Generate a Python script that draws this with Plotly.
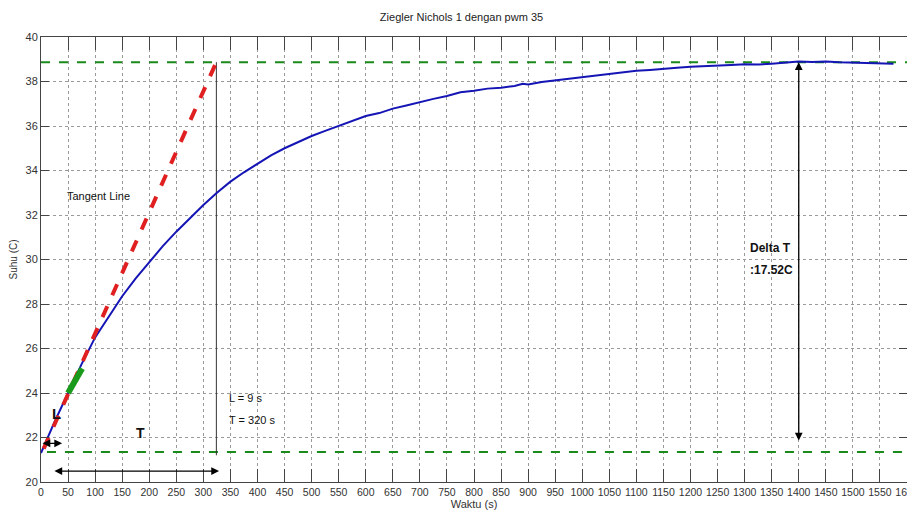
import plotly.graph_objects as go

# ---------------- data ----------------
time_s = [0, 25, 50, 75, 100, 125, 150, 175, 200, 225, 250, 275, 300, 325, 350, 375,
          400, 425, 450, 475, 500, 525, 550, 575, 600, 625, 650, 675, 700, 725, 750,
          775, 800, 825, 850, 875, 890, 900, 925, 950, 975, 1000, 1025, 1050, 1075,
          1100, 1125, 1150, 1175, 1200, 1225, 1250, 1275, 1300, 1325, 1350, 1375,
          1400, 1425, 1450, 1475, 1500, 1525, 1550, 1575]
temp_c = [21.30, 22.70, 24.00, 25.30, 26.50, 27.45, 28.35, 29.15, 29.90, 30.60, 31.25,
          31.85, 32.45, 33.00, 33.50, 33.92, 34.30, 34.68, 35.00, 35.28, 35.55, 35.78,
          36.00, 36.22, 36.45, 36.58, 36.78, 36.92, 37.08, 37.22, 37.35, 37.52, 37.58,
          37.68, 37.72, 37.80, 37.90, 37.87, 37.98, 38.05, 38.12, 38.22, 38.28, 38.36,
          38.40, 38.48, 38.52, 38.58, 38.62, 38.66, 38.68, 38.72, 38.74, 38.78, 38.76,
          38.80, 38.84, 38.90, 38.88, 38.90, 38.86, 38.84, 38.82, 38.80, 38.80]

tangent_x = [5, 324]
tangent_y = [21.50, 38.87]
tangent_pt_x = [50, 76]
tangent_pt_y = [24.0, 25.1]
upper_level = 38.87
lower_level = 21.35
lower_start = 11
T_line_x = 324
L_arrow = [0, 39, 21.74]
T_arrow = [22, 329, 20.49]
dT_arrow_x = 1400
x_ticks = list(range(0, 1601, 50))
y_ticks = list(range(20, 41, 2))

font_narrow = "Liberation Sans Narrow, Arial Narrow, Liberation Sans, Arial, sans-serif"

fig = go.Figure()

# green reference lines
fig.add_trace(go.Scatter(x=[0, 1600], y=[upper_level, upper_level], mode="lines",
                         line=dict(color="#1a8a1a", width=2, dash="dash"), hoverinfo="skip"))
fig.add_trace(go.Scatter(x=[lower_start, 1600], y=[lower_level, lower_level], mode="lines",
                         line=dict(color="#1a8a1a", width=2, dash="dash"), hoverinfo="skip"))
# vertical line at T
fig.add_trace(go.Scatter(x=[T_line_x, T_line_x], y=[21.2, upper_level], mode="lines",
                         line=dict(color="#333333", width=1), hoverinfo="skip"))
# response curve
fig.add_trace(go.Scatter(x=time_s, y=temp_c, mode="lines",
                         line=dict(color="#1515b5", width=2)))
# tangent
fig.add_trace(go.Scatter(x=tangent_x, y=tangent_y, mode="lines",
                         line=dict(color="#e02020", width=4, dash="dash"), hoverinfo="skip"))
fig.add_trace(go.Scatter(x=tangent_pt_x, y=tangent_pt_y, mode="lines",
                         line=dict(color="#1a9a1a", width=6), hoverinfo="skip"))

ann = []
def txt(x, y, t, size=11, bold=False):
    ann.append(dict(x=x, y=y, xref="x", yref="y", text=(f"<b>{t}</b>" if bold else t),
                    showarrow=False, xanchor="left", yanchor="middle",
                    font=dict(family=font_narrow, size=size, color="#111111")))

txt(44, 32.85, "Tangent Line", 11)
txt(344, 23.76, "L = 9 s", 11)
txt(344, 22.77, "T = 320 s", 11)
txt(17, 23.08, "L", 15, True)
txt(171, 22.2, "T", 14, True)
txt(1306, 30.5, "Delta T", 12, True)
txt(1306, 29.51, ":17.52C", 12, True)

def arrow2(x0, y0, x1, y1):
    ann.append(dict(x=x1, y=y1, ax=x0, ay=y0, xref="x", yref="y", axref="x", ayref="y",
                    text="", showarrow=True, arrowside="end+start", arrowhead=2,
                    arrowsize=1.2, arrowwidth=1.3, arrowcolor="#000000"))

arrow2(L_arrow[0], L_arrow[2], L_arrow[1], L_arrow[2])
arrow2(T_arrow[0], T_arrow[2], T_arrow[1], T_arrow[2])
arrow2(dT_arrow_x, 21.8, dT_arrow_x, upper_level)

fig.update_layout(
    width=907, height=520,
    margin=dict(l=33, r=8, t=29, b=46),
    paper_bgcolor="white", plot_bgcolor="white",
    showlegend=False,
    title=dict(text="Ziegler Nichols 1 dengan pwm 35", x=0.5, xanchor="center",
               y=0.983, yanchor="middle",
               font=dict(family=font_narrow, size=11, color="#222222")),
    annotations=ann,
)
fig.update_xaxes(range=[0, 1600], tickvals=x_ticks, ticks="inside", ticklen=13, tickcolor="#444",
                 showline=True, linecolor="#444", linewidth=1, mirror="ticks",
                 showgrid=True, gridcolor="#9a9a9a", griddash="dot", gridwidth=1,
                 zeroline=False, automargin=False, tickangle=0, ticklabeloverflow="allow",
                 tickfont=dict(family=font_narrow, size=10.5, color="#333"),
                 title=dict(text="Waktu (s)", standoff=2,
                            font=dict(family=font_narrow, size=11, color="#333")))
fig.update_yaxes(range=[20, 40], tickvals=y_ticks, ticks="inside", ticklen=8, tickcolor="#444",
                 showline=True, linecolor="#444", linewidth=1, mirror="ticks",
                 showgrid=True, gridcolor="#9a9a9a", griddash="dot", gridwidth=1,
                 zeroline=False, automargin=False,
                 tickfont=dict(family=font_narrow, size=11, color="#333"),
                 title=dict(text="Suhu (C)", standoff=14,
                            font=dict(family=font_narrow, size=10, color="#333")))

fig.write_html("out.html")
